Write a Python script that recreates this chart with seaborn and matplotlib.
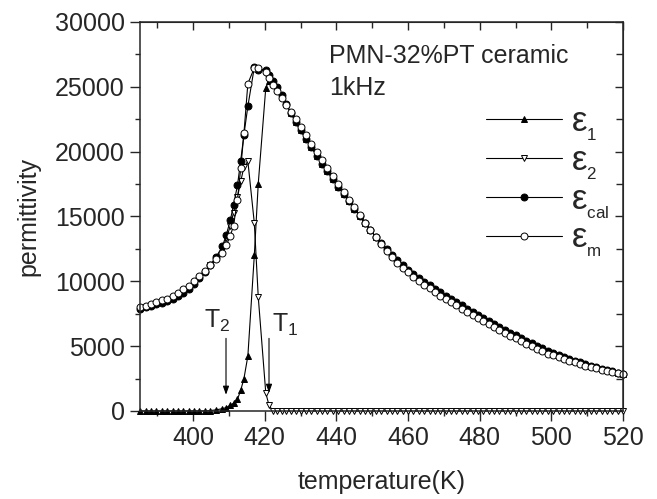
import matplotlib
matplotlib.use("Agg")
import matplotlib.pyplot as plt
from matplotlib.ticker import MultipleLocator
import seaborn as sns

# ------------------ Data ------------------
temperature = [
    385.3, 386.8, 388.3, 389.8, 391.3, 392.8, 394.3, 395.8, 397.3, 398.8,
    400.3, 401.8, 403.3, 404.8, 406.5,
    408.2, 409.3, 410.4, 411.3, 412.4, 413.3, 414.2, 415.3, 417.1, 418.2,
    420.3, 421.2, 422.3, 423.5, 424.8, 426.0, 427.3, 428.6,
    430.0, 431.5, 433.0, 434.5, 436.0, 437.5, 439.0, 440.5, 442.0, 443.5,
    445.0, 446.5, 448.0, 449.5, 451.0, 452.5, 454.0, 455.5, 457.0, 458.5,
    460.0, 461.5, 463.0, 464.5, 466.0, 467.5, 469.0, 470.5, 472.0, 473.5,
    475.0, 476.5, 478.0, 479.5, 481.0, 482.5, 484.0, 485.5, 487.0, 488.5,
    490.0, 491.5, 493.0, 494.5, 496.0, 497.5, 499.0, 500.5, 502.0, 503.5,
    505.0, 506.5, 508.0, 509.5, 511.0, 512.5, 514.0, 515.5, 517.0, 518.5,
    520.0,
]

eps_m = [
    8000, 8120, 8270, 8410, 8540, 8650, 8840, 9090, 9370, 9650,
    10000, 10400, 10800, 11250, 11750,
    12200, 12800, 13500, 14300, 16300, 18700, 21400, 25250, 26450, 26450,
    26150, 25700, 25150, 24650, 24100, 23600, 23050, 22500,
    21900, 21250, 20600, 19950, 19320, 18700, 18100, 17500, 16900, 16300,
    15700, 15100, 14500, 13950, 13400, 12850, 12350, 11900, 11450, 11050,
    10700, 10350, 10050, 9750, 9450, 9150, 8900, 8650, 8400, 8150,
    7900, 7650, 7400, 7180, 6950, 6700, 6450, 6230, 6020, 5800,
    5590, 5390, 5190, 4990, 4800, 4610, 4430, 4280, 4140, 4000,
    3870, 3740, 3620, 3500, 3390, 3290, 3190, 3100, 3010, 2930,
    2860,
]

eps_cal = [
    7900, 7980, 8100, 8230, 8350, 8460, 8620, 8850, 9120, 9420,
    9800, 10250, 10750, 11250, 11900,
    12700, 13600, 14700, 15900, 17400, 19300, 21300, 23500, 26500, 26320,
    26320, 25900, 25450, 24950, 24400, 23650, 23000, 22300,
    21650, 21000, 20350, 19700, 19080, 18470, 17890, 17310, 16750, 16170,
    15600, 15030, 14460, 13940, 13440, 12930, 12470, 12050, 11620, 11230,
    10900, 10560, 10270, 9980, 9680, 9390, 9140, 8900, 8650, 8400,
    8150, 7900, 7650, 7430, 7200, 6950, 6700, 6480, 6270, 6050,
    5840, 5630, 5430, 5230, 5030, 4830, 4640, 4470, 4320, 4160,
    4020, 3880, 3750, 3610, 3490, 3380, 3260, 3160, 3050, 2960,
    2870,
]

eps_1 = [
    0, 0, 0, 0, 0, 0, 0, 0, 0, 0,
    0, 0, 0, 30, 90,
    180, 260, 440, 600, 900, 1600, 2490, 4240, 12000, 17530,
    24930, 25460, 25450, 24950, 24400, 23650, 23000, 22300,
    21650, 21000, 20350, 19700, 19080, 18470, 17890, 17310, 16750, 16170,
    15600, 15030, 14460, 13940, 13440, 12930, 12470, 12050, 11620, 11230,
    10900, 10560, 10270, 9980, 9680, 9390, 9140, 8900, 8650, 8400,
    8150, 7900, 7650, 7430, 7200, 6950, 6700, 6480, 6270, 6050,
    5840, 5630, 5430, 5230, 5030, 4830, 4640, 4470, 4320, 4160,
    4020, 3880, 3750, 3610, 3490, 3380, 3260, 3160, 3050, 2960,
    2870,
]

eps_2 = [
    7900, 7980, 8100, 8230, 8350, 8460, 8620, 8850, 9120, 9420,
    9800, 10250, 10750, 11220, 11810,
    12520, 13340, 14260, 15300, 16500, 17700, 18810, 19260, 14500, 8790,
    1390, 440, 0, 0, 0, 0, 0, 0,
    0, 0, 0, 0, 0, 0, 0, 0, 0, 0,
    0, 0, 0, 0, 0, 0, 0, 0, 0, 0,
    0, 0, 0, 0, 0, 0, 0, 0, 0, 0,
    0, 0, 0, 0, 0, 0, 0, 0, 0, 0,
    0, 0, 0, 0, 0, 0, 0, 0, 0, 0,
    0, 0, 0, 0, 0, 0, 0, 0, 0, 0,
    0,
]

# ------------------ Style ------------------
sns.set_style("ticks")
plt.rcParams["font.family"] = ["Liberation Sans", "DejaVu Sans"]
plt.rcParams["mathtext.fontset"] = "custom"
plt.rcParams["mathtext.rm"] = "Liberation Sans"
plt.rcParams["mathtext.it"] = "Liberation Sans"
plt.rcParams["mathtext.bf"] = "Liberation Sans:bold"

fig = plt.figure(figsize=(6.57, 4.99), dpi=100)
ax = fig.add_axes([0.2131, 0.1764, 0.7352, 0.7796])

series = [
    (eps_1, "^", "black", r"$\varepsilon_{{}_{1}}$"),
    (eps_2, "v", "white", r"$\varepsilon_{{}_{2}}$"),
    (eps_cal, "o", "black", r"$\varepsilon_{{}_{cal}}$"),
    (eps_m, "o", "white", r"$\varepsilon_{{}_{m}}$"),
]
for values, marker, face, label in series:
    sns.lineplot(x=temperature, y=values, ax=ax, color="black", linewidth=0.8,
                 marker=marker, markersize=5, markerfacecolor=face,
                 markeredgecolor="black", markeredgewidth=0.7,
                 label=label, clip_on=False, sort=False, estimator=None)

ax.set_xlim(385.2, 520)
ax.set_ylim(0, 30000)
ax.xaxis.set_major_locator(MultipleLocator(20))
ax.xaxis.set_minor_locator(MultipleLocator(10))
ax.yaxis.set_major_locator(MultipleLocator(5000))
ax.yaxis.set_minor_locator(MultipleLocator(2500))

for side in ax.spines.values():
    side.set_linewidth(1.1)
ax.tick_params(which="major", direction="out", length=7, width=1.0,
               labelsize=18, pad=4)
ax.tick_params(which="minor", direction="out", length=3.5, width=1.0)

# mirrored inward ticks on top and right
top = ax.secondary_xaxis("top")
top.xaxis.set_major_locator(MultipleLocator(20))
top.xaxis.set_minor_locator(MultipleLocator(10))
top.tick_params(which="both", direction="in", labeltop=False, width=1.0)
top.tick_params(which="major", length=6)
top.tick_params(which="minor", length=4)
right = ax.secondary_yaxis("right")
right.yaxis.set_major_locator(MultipleLocator(5000))
right.yaxis.set_minor_locator(MultipleLocator(2500))
right.tick_params(which="both", direction="in", labelright=False, width=1.0)
right.tick_params(which="major", length=6)
right.tick_params(which="minor", length=5)

ax.set_xlabel("temperature(K)", fontsize=18, labelpad=14)
ax.set_ylabel("permittivity", fontsize=18, labelpad=10)

ax.text(0.391, 0.895, "PMN-32%PT ceramic", transform=ax.transAxes,
        fontsize=18, va="baseline", ha="left")
ax.text(0.391, 0.812, "1kHz", transform=ax.transAxes,
        fontsize=18, va="baseline", ha="left")

# transition temperature markers
ax.text(406.7, 6400, r"$\mathrm{T}_{2}$", fontsize=18, ha="center", va="baseline")
ax.text(425.7, 6100, r"$\mathrm{T}_{1}$", fontsize=18, ha="center", va="baseline")
arrow = dict(arrowstyle="-|>,head_length=0.5,head_width=0.18", color="black",
             lw=0.8, mutation_scale=10, shrinkA=0, shrinkB=0)
ax.annotate("", xy=(409.2, 1250), xytext=(409.2, 5600), arrowprops=arrow)
ax.annotate("", xy=(421.2, 1400), xytext=(421.2, 5600), arrowprops=arrow)

handles, labels = ax.get_legend_handles_labels()
ax.legend(handles, labels, loc="upper left", bbox_to_anchor=(0.716, 0.785),
          frameon=False, fontsize=25, handlelength=2.2, handletextpad=0.25,
          labelspacing=0.03, borderpad=0, borderaxespad=0, numpoints=1)

fig.savefig("out.png", dpi=100)
